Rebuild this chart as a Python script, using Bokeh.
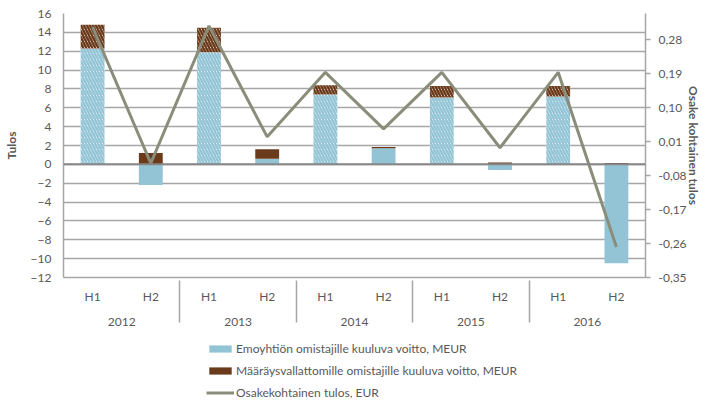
from bokeh.plotting import figure
from bokeh.layouts import column
from bokeh.models import (FactorRange, Range1d, LinearAxis, FixedTicker, CustomJSTickFormatter,
                          ColumnDataSource, Legend, LegendItem, Span)
from bokeh.embed import file_html
from bokeh.resources import INLINE

years = ["2012", "2013", "2014", "2015", "2016"]
halves = ["H1", "H2"]
parent_profit = [12.3, -2.2, 11.9, 0.6, 7.4, 1.7, 7.1, -0.6, 7.2, -10.5]
minority_profit = [2.5, 1.2, 2.6, 1.0, 1.0, 0.15, 1.2, 0.2, 1.1, 0.15]
eps = [0.314, -0.047, 0.317, 0.023, 0.194, 0.044, 0.194, -0.006, 0.194, -0.269]
left_ticks = [-12, -10, -8, -6, -4, -2, 0, 2, 4, 6, 8, 10, 12, 14, 16]
right_ticks = [-0.35, -0.26, -0.17, -0.08, 0.01, 0.10, 0.19, 0.28]
labels = ["Emoyhtiön omistajille kuuluva voitto, MEUR",
          "Määräysvallattomille omistajille kuuluva voitto, MEUR",
          "Osakekohtainen tulos, EUR"]

BLUE = "#93c4d6"
BROWN = "#6b3a1a"
LINE = "#8a8d79"
TXT = "#595959"
GRID = "#a6a6a6"
FONT = "Lato"

factors = [(y, h) for y in years for h in halves]
brown_bottom = [max(v, 0) for v in parent_profit]
brown_top = [b + m for b, m in zip(brown_bottom, minority_profit)]

def src(half):
    idx = [i for i, f in enumerate(factors) if f[1] == half]
    return ColumnDataSource(dict(
        x=[factors[i] for i in idx],
        blue=[parent_profit[i] for i in idx],
        bb=[brown_bottom[i] for i in idx],
        bt=[brown_top[i] for i in idx],
    ))

s1 = src("H1")
s2 = src("H2")

xr = FactorRange(*factors, factor_padding=0, group_padding=0, range_padding=0)
p = figure(width=706, height=338, output_backend="svg", toolbar_location=None,
           x_range=xr, y_range=Range1d(left_ticks[0], left_ticks[-1]),
           min_border_left=62, min_border_right=61, min_border_top=13, min_border_bottom=61)
p.extra_y_ranges = {"eps": Range1d(right_ticks[0], -right_ticks[0])}
p.outline_line_color = None

W = 0.41
HATCH = dict(hatch_pattern="\\", hatch_scale=6, hatch_weight=2.4)
r_b1 = p.vbar(x="x", top="blue", bottom=0, width=W, source=s1, fill_color="white",
              hatch_color=BLUE, line_color=None, **HATCH)
r_b2 = p.vbar(x="x", top="blue", bottom=0, width=W, source=s2, fill_color=BLUE, line_color=None)
r_m1 = p.vbar(x="x", top="bt", bottom="bb", width=W, source=s1, fill_color="white",
              hatch_color=BROWN, line_color=None, **HATCH)
r_m2 = p.vbar(x="x", top="bt", bottom="bb", width=W, source=s2, fill_color=BROWN, line_color=None)

p.add_layout(Span(location=0, dimension="width", line_color="#878787", line_width=2))

r_l = p.line(x=factors, y=eps, y_range_name="eps", line_color=LINE, line_width=3)

# grid
p.xgrid.grid_line_color = None
p.ygrid.ticker = FixedTicker(ticks=left_ticks)
p.ygrid.grid_line_color = GRID
p.ygrid.grid_line_width = 1.5

# left axis
ya = p.yaxis[0]
ya.ticker = FixedTicker(ticks=left_ticks)
ya.axis_label = "Tulos"
ya.axis_label_text_font_style = "bold"
ya.axis_label_text_font = FONT
ya.axis_label_text_font_size = "12px"
ya.axis_label_text_color = TXT
ya.axis_label_standoff = 9
ya.major_label_text_font = FONT
ya.major_label_text_font_size = "12px"
ya.major_label_text_color = TXT
ya.major_tick_line_color = None
ya.major_tick_out = 0
ya.major_tick_in = 0
ya.minor_tick_line_color = None
ya.axis_line_color = GRID
ya.axis_line_width = 1.5
ya.major_label_standoff = 12

# right axis
ra = LinearAxis(y_range_name="eps", ticker=FixedTicker(ticks=right_ticks),
                formatter=CustomJSTickFormatter(code="return tick.toFixed(2).replace('.', ',');"))
ra.axis_label = "Osake kohtainen tulos"
ra.axis_label_text_font_style = "bold"
ra.axis_label_text_font = FONT
ra.axis_label_text_font_size = "12px"
ra.axis_label_text_color = TXT
ra.axis_label_standoff = -4
ra.major_label_text_font = FONT
ra.major_label_text_font_size = "12px"
ra.major_label_text_color = TXT
ra.major_tick_line_color = GRID
ra.major_tick_line_width = 1.5
ra.major_tick_out = 5
ra.major_tick_in = 0
ra.minor_tick_line_color = None
ra.axis_line_color = GRID
ra.axis_line_width = 1.5
ra.major_label_standoff = 8
p.add_layout(ra, "right")

# x axis (categories, with separators between years)
xa = p.xaxis[0]
xa.major_label_text_font = FONT
xa.major_label_text_font_size = "12px"
xa.major_label_text_color = TXT
xa.group_text_font = FONT
xa.group_text_font_size = "12px"
xa.group_text_font_style = "normal"
xa.group_text_color = TXT
xa.major_tick_line_color = None
xa.major_tick_out = 0
xa.major_tick_in = 0
xa.axis_line_color = GRID
xa.axis_line_width = 1.5
xa.separator_line_color = GRID
xa.separator_line_width = 1.5
xa.major_label_orientation = "horizontal"
xa.major_label_standoff = 11

# legend in its own strip below the chart (renderers share the data, drawn off-range)
lf = figure(width=706, height=63, output_backend="svg", toolbar_location=None,
            x_range=xr, y_range=Range1d(1000, 1001),
            x_axis_location=None, y_axis_location=None, min_border=0)
lf.outline_line_color = None
lf.grid.grid_line_color = None
g1 = lf.vbar(x="x", top="blue", bottom=0, width=W, source=s2, fill_color=BLUE, line_color=None)
g2 = lf.vbar(x="x", top="bt", bottom="bb", width=W, source=s2, fill_color=BROWN, line_color=None)
g3 = lf.line(x=factors, y=eps, line_color=LINE, line_width=3)
legend = Legend(items=[LegendItem(label=labels[0], renderers=[g1]),
                       LegendItem(label=labels[1], renderers=[g2]),
                       LegendItem(label=labels[2], renderers=[g3])],
                orientation="vertical", location=(143, 0),
                border_line_color=None, background_fill_alpha=0,
                label_text_font=FONT, label_text_font_size="12px", label_text_color=TXT,
                glyph_width=28, glyph_height=9, label_height=18, spacing=4,
                label_standoff=2, padding=0, margin=0)
lf.add_layout(legend, "center")

open("out.html", "w").write(file_html(column(p, lf, spacing=0), INLINE))
